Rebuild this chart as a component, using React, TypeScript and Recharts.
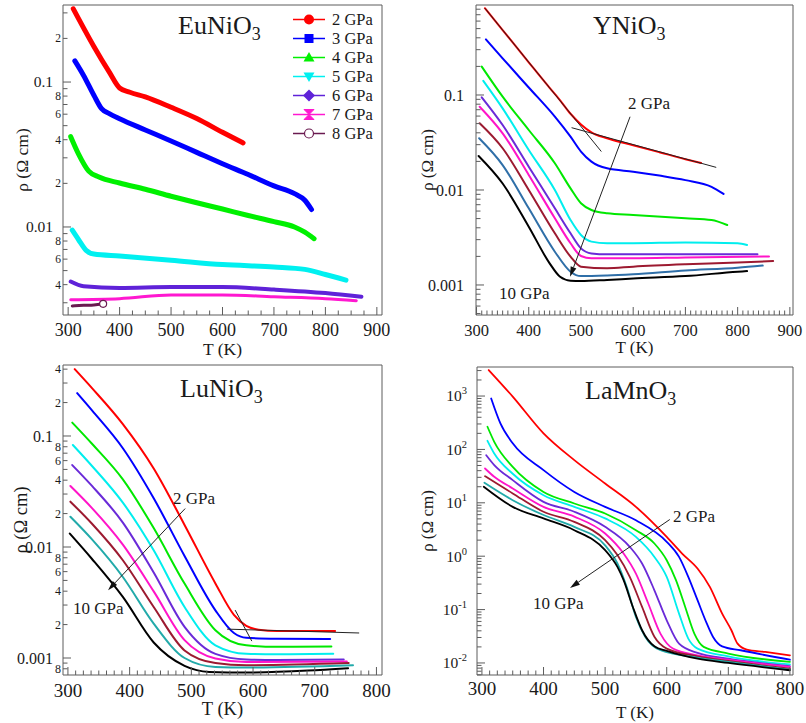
import React from "react";
import { Legend, Line, LineChart, ReferenceArea, ReferenceLine, XAxis, YAxis } from "recharts";

type Pair = [number, number];

const FONT = "'Liberation Serif', 'Times New Roman', serif";
const AXIS = "#5c5c5c";
const INK = "#1a1a1a";

// ---------- EuNiO3 ----------
const euNames = ["2 GPa", "3 GPa", "4 GPa", "5 GPa", "6 GPa", "7 GPa", "8 GPa"];
const euColors = ["#ff0000", "#0000ff", "#00f000", "#00f0f0", "#5f22d8", "#ff18d0", "#6a1a50"];
const eu2: Pair[] = [[310, 0.32], [350, 0.176], [380, 0.117], [400, 0.091], [420, 0.085], [450, 0.079], [500, 0.067], [550, 0.056], [600, 0.045], [640, 0.038]];
const eu3: Pair[] = [[313, 0.14], [330, 0.111], [350, 0.081], [365, 0.0655], [380, 0.0605], [400, 0.0558], [450, 0.0467], [500, 0.0392], [550, 0.0327], [600, 0.0273], [650, 0.023], [700, 0.0192], [740, 0.017], [760, 0.0153], [773, 0.0132]];
const eu4: Pair[] = [[305, 0.042], [320, 0.032], [340, 0.0243], [360, 0.0221], [400, 0.0201], [450, 0.0182], [500, 0.0163], [550, 0.0147], [600, 0.0133], [650, 0.012], [700, 0.0109], [740, 0.01], [760, 0.0092], [778, 0.0083]];
const eu5: Pair[] = [[308, 0.0095], [320, 0.0082], [335, 0.0069], [350, 0.0065], [400, 0.0063], [500, 0.0059], [600, 0.0055], [700, 0.0053], [760, 0.0051], [800, 0.0047], [840, 0.0043]];
const eu6: Pair[] = [[305, 0.0042], [330, 0.0039], [400, 0.0038], [500, 0.00385], [600, 0.00385], [700, 0.0037], [800, 0.0035], [870, 0.0033]];
const eu7: Pair[] = [[305, 0.00315], [400, 0.0032], [500, 0.0034], [600, 0.0034], [700, 0.0033], [800, 0.0032], [860, 0.0031]];
const eu8: Pair[] = [[308, 0.00285], [330, 0.00288], [350, 0.0029], [368, 0.00295]];
const euXMajor = [300, 400, 500, 600, 700, 800, 900];
const euYMajor = [0.01, 0.1];

// ---------- YNiO3 ----------
const curveColors = ["#ff0000", "#0000ff", "#00e800", "#00eeee", "#6a2ad8", "#ff14c8", "#9c1a30", "#2f6fa8", "#000000"];
const lowColors = ["#ff0000", "#0000ff", "#00e800", "#00eeee", "#6a2ad8", "#ff14c8", "#9c1a30", "#22aaaa", "#000000"];
const curveNames = ["2 GPa", "3 GPa", "4 GPa", "5 GPa", "6 GPa", "7 GPa", "8 GPa", "9 GPa", "10 GPa"];
const yn2: Pair[] = [[316, 0.82], [350, 0.483], [400, 0.221], [440, 0.119], [460, 0.088], [480, 0.0635], [500, 0.049], [520, 0.0405], [550, 0.035], [600, 0.0296], [650, 0.025], [700, 0.0211], [730, 0.0192]];
const yn3: Pair[] = [[318, 0.385], [350, 0.243], [400, 0.12], [450, 0.0592], [480, 0.0364], [500, 0.0254], [520, 0.0199], [550, 0.0169], [600, 0.0156], [650, 0.0142], [700, 0.0127], [750, 0.0108], [773, 0.0091]];
const yn4: Pair[] = [[310, 0.199], [350, 0.096], [400, 0.0428], [450, 0.0191], [480, 0.0104], [500, 0.00725], [520, 0.00616], [550, 0.00568], [600, 0.00545], [700, 0.00504], [750, 0.00484], [780, 0.00428]];
const yn5: Pair[] = [[313, 0.141], [350, 0.0724], [400, 0.0264], [450, 0.01], [480, 0.00483], [500, 0.00336], [520, 0.00286], [550, 0.00275], [600, 0.00275], [700, 0.0028], [800, 0.00275], [818, 0.00264]];
const yn6: Pair[] = [[310, 0.0945], [350, 0.0483], [400, 0.0176], [450, 0.00641], [480, 0.0035], [500, 0.00243], [520, 0.00215], [550, 0.0021], [700, 0.0021], [838, 0.0021]];
const yn7: Pair[] = [[306, 0.0753], [350, 0.0395], [400, 0.0144], [450, 0.00504], [480, 0.00275], [500, 0.00202], [520, 0.00191], [600, 0.00191], [700, 0.00195], [860, 0.002]];
const yn8: Pair[] = [[306, 0.0504], [350, 0.0275], [400, 0.01], [450, 0.0035], [480, 0.00199], [500, 0.00156], [550, 0.0015], [600, 0.00156], [700, 0.00165], [800, 0.00172], [868, 0.00179]];
const yn9: Pair[] = [[305, 0.035], [350, 0.0183], [400, 0.00641], [450, 0.00224], [480, 0.00138], [500, 0.00124], [550, 0.00126], [600, 0.0013], [700, 0.00142], [800, 0.00152], [848, 0.0016]];
const yn10: Pair[] = [[304, 0.0228], [350, 0.0117], [400, 0.00411], [440, 0.00169], [460, 0.00122], [480, 0.00111], [500, 0.0011], [550, 0.00113], [600, 0.00117], [700, 0.00124], [800, 0.00138], [818, 0.0014]];
const ynXMajor = [300, 400, 500, 600, 700, 800, 900];
const ynYMajor = [0.001, 0.01, 0.1];
const ynFit1: [Pair, Pair] = [[316, 0.82], [539, 0.0254]];
const ynFit2: [Pair, Pair] = [[482, 0.0453], [759, 0.0173]];
const ynArrow: [Pair, Pair] = [[594, 0.059], [479, 0.00122]];

// ---------- LuNiO3 ----------
const lu2: Pair[] = [[311, 0.4], [339, 0.27], [389, 0.128], [439, 0.051], [489, 0.0158], [539, 0.0047], [569, 0.00245], [589, 0.00195], [609, 0.0018], [639, 0.00175], [689, 0.00175], [733, 0.00175]];
const lu3: Pair[] = [[315, 0.243], [339, 0.17], [389, 0.0776], [439, 0.0275], [489, 0.0083], [539, 0.00269], [569, 0.00168], [589, 0.00152], [639, 0.00149], [725, 0.00148]];
const lu4: Pair[] = [[307, 0.132], [339, 0.0851], [389, 0.0407], [439, 0.0148], [489, 0.00468], [539, 0.00178], [589, 0.0013], [639, 0.00126], [727, 0.00127]];
const lu5: Pair[] = [[308, 0.083], [339, 0.0537], [389, 0.0251], [439, 0.00933], [489, 0.00288], [539, 0.0013], [589, 0.00109], [639, 0.00108], [730, 0.00109]];
const lu6: Pair[] = [[307, 0.0547], [339, 0.0355], [389, 0.0166], [439, 0.00589], [489, 0.00191], [539, 0.00109], [589, 0.00097], [639, 0.00096], [747, 0.00097]];
const lu7: Pair[] = [[304, 0.0354], [339, 0.0224], [389, 0.0105], [439, 0.00398], [489, 0.00145], [539, 0.00099], [589, 0.00092], [752, 0.00093]];
const lu8: Pair[] = [[304, 0.0256], [339, 0.0162], [389, 0.0076], [439, 0.00288], [489, 0.00117], [539, 0.0009], [589, 0.00086], [755, 0.0009]];
const lu9: Pair[] = [[304, 0.0187], [339, 0.0117], [389, 0.00537], [439, 0.00204], [489, 0.001], [539, 0.00083], [589, 0.00082], [762, 0.00086]];
const lu10: Pair[] = [[303, 0.0132], [339, 0.0078], [389, 0.00355], [439, 0.00138], [489, 0.00085], [529, 0.00075], [589, 0.00074], [689, 0.00077], [754, 0.00081]];
const luXMajor = [300, 400, 500, 600, 700, 800];
const luYMajor = [0.001, 0.01, 0.1];
const luFit1: [Pair, Pair] = [[558, 0.00182], [772, 0.00168]];
const luFit2: [Pair, Pair] = [[571, 0.0027], [598, 0.00142]];
const luArrow: [Pair, Pair] = [[490, 0.0222], [365, 0.00408]];

// ---------- LaMnO3 ----------
const la2: Pair[] = [[311, 3070], [350, 977], [400, 200], [450, 63], [500, 23], [550, 8.4], [600, 2.3], [625, 1.12], [650, 0.587], [670, 0.266], [690, 0.084], [705, 0.041], [715, 0.023], [730, 0.0178], [760, 0.0161], [800, 0.0139]];
const la3: Pair[] = [[315, 900], [330, 307], [350, 130], [400, 41], [450, 16], [500, 8.4], [550, 4.7], [600, 1.86], [620, 0.97], [635, 0.41], [650, 0.15], [665, 0.055], [675, 0.031], [690, 0.0205], [720, 0.0173], [800, 0.0115]];
const la4: Pair[] = [[309, 266], [320, 139], [350, 47], [400, 16], [450, 9.7], [500, 6.3], [550, 3.07], [580, 1.73], [600, 0.84], [615, 0.355], [630, 0.112], [645, 0.035], [660, 0.02], [700, 0.015], [800, 0.0105]];
const la5: Pair[] = [[309, 145], [320, 84], [350, 35], [400, 13.9], [450, 8.4], [500, 5.1], [550, 2.3], [580, 0.97], [600, 0.41], [620, 0.084], [635, 0.0286], [650, 0.0186], [700, 0.0133], [800, 0.0094]];
const la6: Pair[] = [[307, 78], [320, 51], [350, 26.6], [400, 10.4], [450, 6.8], [500, 3.55], [540, 1.5], [560, 0.73], [580, 0.23], [600, 0.063], [620, 0.023], [650, 0.0154], [700, 0.012], [800, 0.0087]];
const la7: Pair[] = [[305, 44], [320, 30.7], [350, 18.6], [400, 8.4], [450, 5.5], [500, 2.66], [530, 1.12], [550, 0.47], [570, 0.13], [590, 0.035], [610, 0.0186], [650, 0.0139], [700, 0.0115], [800, 0.0084]];
const la8: Pair[] = [[305, 31.6], [350, 15], [400, 6.8], [450, 4.4], [500, 2.0], [520, 1.05], [540, 0.41], [560, 0.112], [580, 0.031], [600, 0.0186], [650, 0.0133], [700, 0.0109], [800, 0.0078]];
const la9: Pair[] = [[304, 23.7], [350, 11.2], [400, 5.9], [450, 3.55], [500, 1.6], [520, 0.73], [535, 0.266], [550, 0.073], [565, 0.031], [590, 0.0173], [650, 0.0126], [700, 0.0105], [800, 0.0075]];
const la10: Pair[] = [[303, 20], [350, 8.4], [400, 5.1], [450, 3.07], [500, 1.3], [520, 0.63], [530, 0.355], [545, 0.112], [560, 0.041], [580, 0.0205], [600, 0.0168], [650, 0.012], [700, 0.01], [800, 0.0073]];
const laXMajor = [300, 400, 500, 600, 700, 800];
const laYMajor = [0.01, 0.1, 1, 10, 100, 1000];
const laArrow: [Pair, Pair] = [[605, 4.87], [443, 0.255]];

// ---------- helpers ----------
type Series = { name: string; color: string; width: number; data: Pair[]; endCircle?: boolean };
type TickInfo = { v: number; major: boolean; label: React.ReactNode };
type Seg = { pts: [Pair, Pair]; arrow?: boolean };
type Note = { text: string; left: number; top: number };

const toPts = (a: Pair[]) => a.map(([T, rho]) => ({ T, rho }));

function minorTicks(major: number[], step: number, dom: [number, number]) {
  const out: number[] = [];
  for (let v = major[0]; v <= major[major.length - 1] + 1e-9; v += step) {
    if (v >= dom[0] && v <= dom[1]) out.push(v);
  }
  return out;
}

function logTicks(major: number[], dom: [number, number], labeledMinor: number[], fmt: (v: number) => React.ReactNode) {
  const out: TickInfo[] = [];
  [major[0] / 10, ...major].forEach((b) => {
    for (let m = 1; m <= 9; m++) {
      const v = Number((b * m).toPrecision(6));
      if (v < dom[0] || v > dom[1]) continue;
      out.push({ v, major: m === 1, label: m === 1 ? fmt(v) : labeledMinor.includes(m) ? String(m) : null });
    }
  });
  return out;
}

const decimal = (v: number) => String(v);
const power = (v: number) => (
  <>
    <tspan>10</tspan>
    <tspan dy={-7} fontSize={10.5}>{String(Math.round(Math.log10(v)))}</tspan>
  </>
);

function Arrow(props: any) {
  const { x1, y1, x2, y2 } = props;
  const a = Math.atan2(y2 - y1, x2 - x1);
  const L = 10;
  const W = 3;
  const bx = x2 - L * Math.cos(a);
  const by = y2 - L * Math.sin(a);
  const px = -Math.sin(a) * W;
  const py = Math.cos(a) * W;
  return (
    <g>
      <line x1={x1} y1={y1} x2={bx} y2={by} stroke="#222" strokeWidth={1} />
      <polygon points={`${x2},${y2} ${bx + px},${by + py} ${bx - px},${by - py}`} fill="#111" />
    </g>
  );
}

function Marker({ name, color }: { name: string; color: string }) {
  const c = 19;
  const m = 9.5;
  switch (name) {
    case "2 GPa":
      return <circle cx={c} cy={m} r={5} fill={color} />;
    case "3 GPa":
      return <rect x={c - 4.5} y={m - 4.5} width={9} height={9} fill={color} />;
    case "4 GPa":
      return <polygon points={`${c},${m - 5.5} ${c + 5.5},${m + 4} ${c - 5.5},${m + 4}`} fill={color} />;
    case "5 GPa":
      return <polygon points={`${c},${m + 5.5} ${c + 5.5},${m - 4} ${c - 5.5},${m - 4}`} fill={color} />;
    case "6 GPa":
      return <polygon points={`${c},${m - 6} ${c + 6},${m} ${c},${m + 6} ${c - 6},${m}`} fill={color} />;
    case "7 GPa":
      return <polygon points={`${c - 5},${m - 5} ${c + 5},${m - 5} ${c},${m} ${c + 5},${m + 5} ${c - 5},${m + 5} ${c},${m}`} fill={color} stroke={color} />;
    default:
      return <circle cx={c} cy={m} r={4.5} fill="#fff" stroke={color} strokeWidth={1.2} />;
  }
}

function EuLegend(props: any) {
  const payload: any[] = props.payload ?? [];
  return (
    <div style={{ fontFamily: FONT, fontSize: 16.5, color: INK }}>
      {payload.map((p) => (
        <div key={p.value} style={{ display: "flex", alignItems: "center", height: 19 }}>
          <svg width={38} height={19} style={{ display: "block" }}>
            <line x1={3} x2={35} y1={9.5} y2={9.5} stroke={p.color} strokeWidth={1.5} />
            <Marker name={p.value} color={p.color} />
          </svg>
          <span style={{ marginLeft: 4, lineHeight: "19px", whiteSpace: "nowrap" }}>{p.value}</span>
        </div>
      ))}
    </div>
  );
}

type PanelProps = {
  left: number;
  top: number;
  w: number;
  h: number;
  margin: { top: number; right: number; bottom: number; left: number };
  yAxisW: number;
  xAxisH: number;
  xDomain: [number, number];
  yDomain: [number, number];
  xMajor: number[];
  xStep: number;
  xFont: number;
  xGap: number;
  yTicks: TickInfo[];
  yFont: number;
  yMinorFont: number;
  yGap: number;
  yLabelOffset: number;
  xLabelOffset: number;
  axisFont: number;
  series: Series[];
  segs: Seg[];
  title: string;
  titlePos: { left: number; top: number };
  notes: Note[];
  legend?: boolean;
};

function Panel(p: PanelProps) {
  const xTicks = minorTicks(p.xMajor, p.xStep, p.xDomain);
  const xTick = (t: any) => {
    const major = p.xMajor.includes(t.payload.value);
    return (
      <g>
        <line x1={t.x} x2={t.x} y1={t.y} y2={t.y - (major ? 8 : 4.5)} stroke={AXIS} />
        {major && (
          <text x={t.x} y={t.y + p.xGap} dy="0.35em" textAnchor="middle" fontSize={p.xFont} style={{ fontFamily: FONT }} fill={INK}>
            {t.payload.value}
          </text>
        )}
      </g>
    );
  };
  const yTick = (t: any) => {
    const info = p.yTicks.find((i) => Math.abs(i.v - t.payload.value) <= i.v * 1e-6);
    if (!info) return <g />;
    return (
      <g>
        <line x1={t.x} x2={t.x + (info.major ? 8 : 4.5)} y1={t.y} y2={t.y} stroke={AXIS} />
        {info.label != null && (
          <text
            x={t.x - (info.major ? p.yGap : 2)}
            y={t.y}
            dy="0.35em"
            textAnchor="end"
            fontSize={info.major ? p.yFont : p.yMinorFont}
            style={{ fontFamily: FONT }}
            fill={INK}
          >
            {info.label}
          </text>
        )}
      </g>
    );
  };

  return (
    <div style={{ position: "absolute", left: p.left, top: p.top, width: p.w, height: p.h }}>
      <LineChart width={p.w} height={p.h} margin={p.margin}>
        <XAxis
          dataKey="T"
          type="number"
          domain={p.xDomain}
          allowDataOverflow
          ticks={xTicks}
          interval={0}
          tickSize={0}
          tickMargin={0}
          axisLine={false}
          height={p.xAxisH}
          tick={xTick}
          label={{ value: "T (K)", position: "insideBottom", offset: p.xLabelOffset, style: { fontFamily: FONT, fontSize: p.axisFont, fill: INK } }}
        />
        <YAxis
          dataKey="rho"
          type="number"
          scale="log"
          domain={p.yDomain}
          allowDataOverflow
          ticks={p.yTicks.map((t) => t.v)}
          interval={0}
          tickSize={0}
          tickMargin={0}
          axisLine={false}
          width={p.yAxisW}
          tick={yTick}
          label={{
            value: "ρ (Ω cm)",
            angle: -90,
            position: "insideLeft",
            offset: p.yLabelOffset,
            style: { textAnchor: "middle", fontFamily: FONT, fontSize: p.axisFont, fill: INK },
          }}
        />
        <ReferenceArea x1={p.xDomain[0]} x2={p.xDomain[1]} y1={p.yDomain[0]} y2={p.yDomain[1]} fill="none" stroke={AXIS} strokeWidth={1} ifOverflow="visible" />
        {p.series.map((s) => {
          const pts = toPts(s.data);
          return (
            <Line
              key={s.name}
              name={s.name}
              data={pts}
              dataKey="rho"
              type="monotone"
              stroke={s.color}
              strokeWidth={s.width}
              strokeLinecap="round"
              dot={
                s.endCircle
                  ? (d: any) =>
                      d.index === pts.length - 1 ? (
                        <circle key={`e${d.index}`} cx={d.cx} cy={d.cy} r={3.5} fill="#fff" stroke={s.color} strokeWidth={1.2} />
                      ) : (
                        <g key={`e${d.index}`} />
                      )
                  : false
              }
              activeDot={false}
              isAnimationActive={false}
            />
          );
        })}
        {p.segs.map((sg, i) => (
          <ReferenceLine
            key={`seg${i}`}
            segment={[
              { x: sg.pts[0][0], y: sg.pts[0][1] },
              { x: sg.pts[1][0], y: sg.pts[1][1] },
            ]}
            stroke="#222"
            strokeWidth={1}
            ifOverflow="visible"
            shape={sg.arrow ? Arrow : undefined}
          />
        ))}
        {p.legend && (
          <Legend
            layout="vertical"
            align="center"
            verticalAlign="middle"
            content={EuLegend}
            wrapperStyle={{ left: 290, top: 9.5, width: 110 }}
          />
        )}
      </LineChart>
      <div
        style={{
          position: "absolute",
          left: p.titlePos.left,
          top: p.titlePos.top,
          fontFamily: FONT,
          fontSize: 26,
          lineHeight: 1,
          color: INK,
          whiteSpace: "nowrap",
          pointerEvents: "none",
        }}
      >
        {p.title}
        <span style={{ fontSize: 18, position: "relative", top: 6 }}>3</span>
      </div>
      {p.notes.map((n) => (
        <div
          key={n.text}
          style={{
            position: "absolute",
            left: n.left,
            top: n.top,
            fontFamily: FONT,
            fontSize: 17,
            lineHeight: 1,
            color: INK,
            whiteSpace: "nowrap",
            pointerEvents: "none",
          }}
        >
          {n.text}
        </div>
      ))}
    </div>
  );
}

const euData = [eu2, eu3, eu4, eu5, eu6, eu7, eu8];
const euWidths = [5, 5, 5, 5, 4, 3, 3];
const euSeries: Series[] = euNames.map((name, i) => ({ name, color: euColors[i], width: euWidths[i], data: euData[i], endCircle: i === 6 }));

const mkSeries = (data: Pair[][], colors: string[], width: number): Series[] =>
  curveNames.map((name, i) => ({ name, color: colors[i], width, data: data[i] }));

const ynSeries = mkSeries([yn2, yn3, yn4, yn5, yn6, yn7, yn8, yn9, yn10], curveColors, 2);
const luSeries = mkSeries([lu2, lu3, lu4, lu5, lu6, lu7, lu8, lu9, lu10], lowColors, 2);
const laSeries = mkSeries([la2, la3, la4, la5, la6, la7, la8, la9, la10], lowColors, 1.8);

const euYDom: [number, number] = [0.00247, 0.34];
const ynYDom: [number, number] = [0.000483, 0.886];
const luYDom: [number, number] = [0.000703, 0.436];
const laYDom: [number, number] = [0.00595, 3500];

export default function App() {
  return (
    <div style={{ position: "absolute", left: 0, top: 0, width: 806, height: 723, background: "#fff", overflow: "hidden" }}>
      <Panel
        left={0}
        top={0}
        w={400}
        h={360}
        margin={{ top: 5, right: 18, bottom: 0, left: 10 }}
        yAxisW={53}
        xAxisH={45}
        xDomain={[290, 910]}
        yDomain={euYDom}
        xMajor={euXMajor}
        xStep={25}
        xFont={18}
        xGap={15}
        yTicks={logTicks(euYMajor, euYDom, [2, 4, 6, 8], decimal)}
        yFont={15.5}
        yMinorFont={11.5}
        yGap={10}
        yLabelOffset={12}
        xLabelOffset={5}
        axisFont={17.5}
        series={euSeries}
        segs={[]}
        title="EuNiO"
        titlePos={{ left: 178, top: 13 }}
        notes={[]}
        legend
      />
      <Panel
        left={400}
        top={0}
        w={406}
        h={360}
        margin={{ top: 5, right: 13, bottom: 0, left: 10 }}
        yAxisW={66}
        xAxisH={45}
        xDomain={[299, 906]}
        yDomain={ynYDom}
        xMajor={ynXMajor}
        xStep={10}
        xFont={16.5}
        xGap={15}
        yTicks={logTicks(ynYMajor, ynYDom, [], decimal)}
        yFont={16}
        yMinorFont={11}
        yGap={12}
        yLabelOffset={17}
        xLabelOffset={7}
        axisFont={17}
        series={ynSeries}
        segs={[{ pts: ynFit1 }, { pts: ynFit2 }, { pts: ynArrow, arrow: true }]}
        title="YNiO"
        titlePos={{ left: 193, top: 13 }}
        notes={[
          { text: "2 GPa", left: 228, top: 95 },
          { text: "10 GPa", left: 99, top: 285 },
        ]}
      />
      <Panel
        left={0}
        top={360}
        w={400}
        h={363}
        margin={{ top: 5, right: 18, bottom: 0, left: 10 }}
        yAxisW={53}
        xAxisH={48}
        xDomain={[292, 809]}
        yDomain={luYDom}
        xMajor={luXMajor}
        xStep={12.5}
        xFont={19}
        xGap={15}
        yTicks={logTicks(luYMajor, luYDom, [2, 4, 6, 8], decimal)}
        yFont={16}
        yMinorFont={12}
        yGap={10}
        yLabelOffset={10}
        xLabelOffset={8}
        axisFont={18.5}
        series={luSeries}
        segs={[{ pts: luFit1 }, { pts: luFit2 }, { pts: luArrow, arrow: true }]}
        title="LuNiO"
        titlePos={{ left: 180, top: 16 }}
        notes={[
          { text: "2 GPa", left: 173, top: 130 },
          { text: "10 GPa", left: 73, top: 240 },
        ]}
      />
      <Panel
        left={400}
        top={360}
        w={406}
        h={363}
        margin={{ top: 7, right: 13, bottom: 0, left: 10 }}
        yAxisW={67}
        xAxisH={48}
        xDomain={[292, 805]}
        yDomain={laYDom}
        xMajor={laXMajor}
        xStep={12.5}
        xFont={19}
        xGap={13}
        yTicks={logTicks(laYMajor, laYDom, [], power)}
        yFont={15.5}
        yMinorFont={11}
        yGap={10}
        yLabelOffset={17}
        xLabelOffset={5}
        axisFont={17}
        series={laSeries}
        segs={[{ pts: laArrow, arrow: true }]}
        title="LaMnO"
        titlePos={{ left: 185, top: 18 }}
        notes={[
          { text: "2 GPa", left: 273, top: 148 },
          { text: "10 GPa", left: 133, top: 235 },
        ]}
      />
    </div>
  );
}
